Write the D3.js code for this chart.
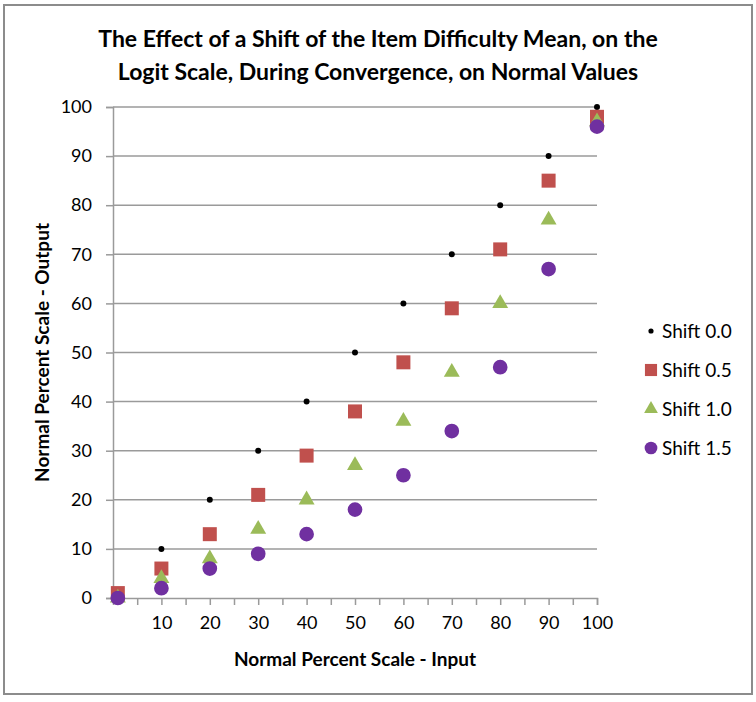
<!DOCTYPE html>
<html>
<head>
<meta charset="utf-8">
<script src="https://cdn.jsdelivr.net/npm/d3@7"></script>
<style>
  body { margin: 0; background: #fff; }
  text { font-family: Lato, "Open Sans", sans-serif; fill: #000; }
</style>
</head>
<body>
<svg id="chart" width="756" height="702"></svg>
<script>
// Input positions on the normal percent scale
const inputs = [1, 10, 20, 30, 40, 50, 60, 70, 80, 90, 100];

// Output values per shift of the item difficulty mean
const shift00 = [0, 10, 20, 30, 40, 50, 60, 70, 80, 90, 100];
const shift05 = [1, 6, 13, 21, 29, 38, 48, 59, 71, 85, 98];
const shift10 = [0, 4, 8, 14, 20, 27, 36, 46, 60, 77, 97];
const shift15 = [0, 2, 6, 9, 13, 18, 25, 34, 47, 67, 96];

const seriesNames = ["Shift 0.0", "Shift 0.5", "Shift 1.0", "Shift 1.5"];
const xTickLabels = [10, 20, 30, 40, 50, 60, 70, 80, 90, 100];
const yTickLabels = [0, 10, 20, 30, 40, 50, 60, 70, 80, 90, 100];

const svg = d3.select("#chart");

const plot = { left: 113, right: 597, top: 107, bottom: 598 };

// Outer frame
svg.append("rect")
  .attr("x", 4)
  .attr("y", 5)
  .attr("width", 748)
  .attr("height", 689)
  .attr("fill", "#fff")
  .attr("stroke", "#8c8c8c")
  .attr("stroke-width", 2);

// Title
const title = svg.append("text")
  .attr("text-anchor", "middle")
  .style("font-size", "23px")
  .style("font-weight", "bold");
title.append("tspan").attr("x", 378).attr("y", 47)
  .text("The Effect of a Shift of the Item Difficulty Mean, on the");
title.append("tspan").attr("x", 378).attr("y", 80)
  .text("Logit Scale, During Convergence, on Normal Values");

// Scales
const x = d3.scaleLinear().domain([0, 100]).range([plot.left, plot.right]);
const y = d3.scaleLinear().domain([0, 100]).range([plot.bottom, plot.top]);

// Horizontal gridlines
svg.append("g")
  .selectAll("line")
  .data(yTickLabels.slice(1))
  .join("line")
  .attr("x1", plot.left)
  .attr("x2", plot.right)
  .attr("y1", (d) => y(d))
  .attr("y2", (d) => y(d))
  .attr("stroke", "#9a9a9a")
  .attr("stroke-width", 1.5);

// Y axis
const yAxis = svg.append("g")
  .attr("transform", `translate(${plot.left}, 0)`)
  .call(d3.axisLeft(y).tickValues(yTickLabels).tickSize(7).tickPadding(14));
yAxis.selectAll("path, line").attr("stroke", "#9a9a9a").attr("stroke-width", 1.5);
yAxis.selectAll("text")
  .style("font-size", "18px")
  .style("font-family", "Lato, sans-serif")
  .attr("fill", "#000");

// X axis: minor ticks every 5, labels every 10
const xAxis = svg.append("g")
  .attr("transform", `translate(0, ${plot.bottom})`)
  .call(
    d3.axisBottom(x)
      .tickValues(d3.range(5, 101, 5))
      .tickSize(7)
      .tickPadding(11)
      .tickFormat((d) => (xTickLabels.includes(d) ? d : "")),
  );
xAxis.selectAll("path, line").attr("stroke", "#9a9a9a").attr("stroke-width", 1.5);
xAxis.selectAll("text")
  .style("font-size", "18px")
  .style("font-family", "Lato, sans-serif")
  .attr("fill", "#000");

// Axis titles
svg.append("text")
  .attr("x", (plot.left + plot.right) / 2)
  .attr("y", 666)
  .attr("text-anchor", "middle")
  .style("font-size", "19px")
  .style("font-weight", "bold")
  .text("Normal Percent Scale - Input");

svg.append("text")
  .attr("transform", `translate(49, ${(plot.top + plot.bottom) / 2}) rotate(-90)`)
  .attr("text-anchor", "middle")
  .style("font-size", "19px")
  .style("font-weight", "bold")
  .text("Normal Percent Scale - Output");

// Series
const series = [
  { name: seriesNames[0], values: shift00, symbol: d3.symbolCircle, size: 28, color: "#000000" },
  { name: seriesNames[1], values: shift05, symbol: d3.symbolSquare, size: 196, color: "#c0504d" },
  { name: seriesNames[2], values: shift10, symbol: d3.symbolTriangle, size: 110, color: "#9bbb59" },
  { name: seriesNames[3], values: shift15, symbol: d3.symbolCircle, size: 170, color: "#7030a0" },
];

series.forEach((s) => {
  svg.append("g")
    .selectAll("path")
    .data(inputs.map((v, i) => ({ x: v, y: s.values[i] })))
    .join("path")
    .attr("transform", (d) => `translate(${x(d.x)}, ${y(d.y)})`)
    .attr("d", d3.symbol().type(s.symbol).size(s.size))
    .attr("fill", s.color);
});

// Legend
const legend = svg.append("g").attr("transform", "translate(651, 331)");
series.forEach((s, i) => {
  const row = legend.append("g").attr("transform", `translate(0, ${i * 39})`);
  row.append("path")
    .attr("d", d3.symbol().type(s.symbol).size(s.size * 0.75))
    .attr("fill", s.color);
  row.append("text")
    .attr("x", 11)
    .attr("y", 7)
    .style("font-size", "19px")
    .text(s.name);
});
</script>
</body>
</html>
